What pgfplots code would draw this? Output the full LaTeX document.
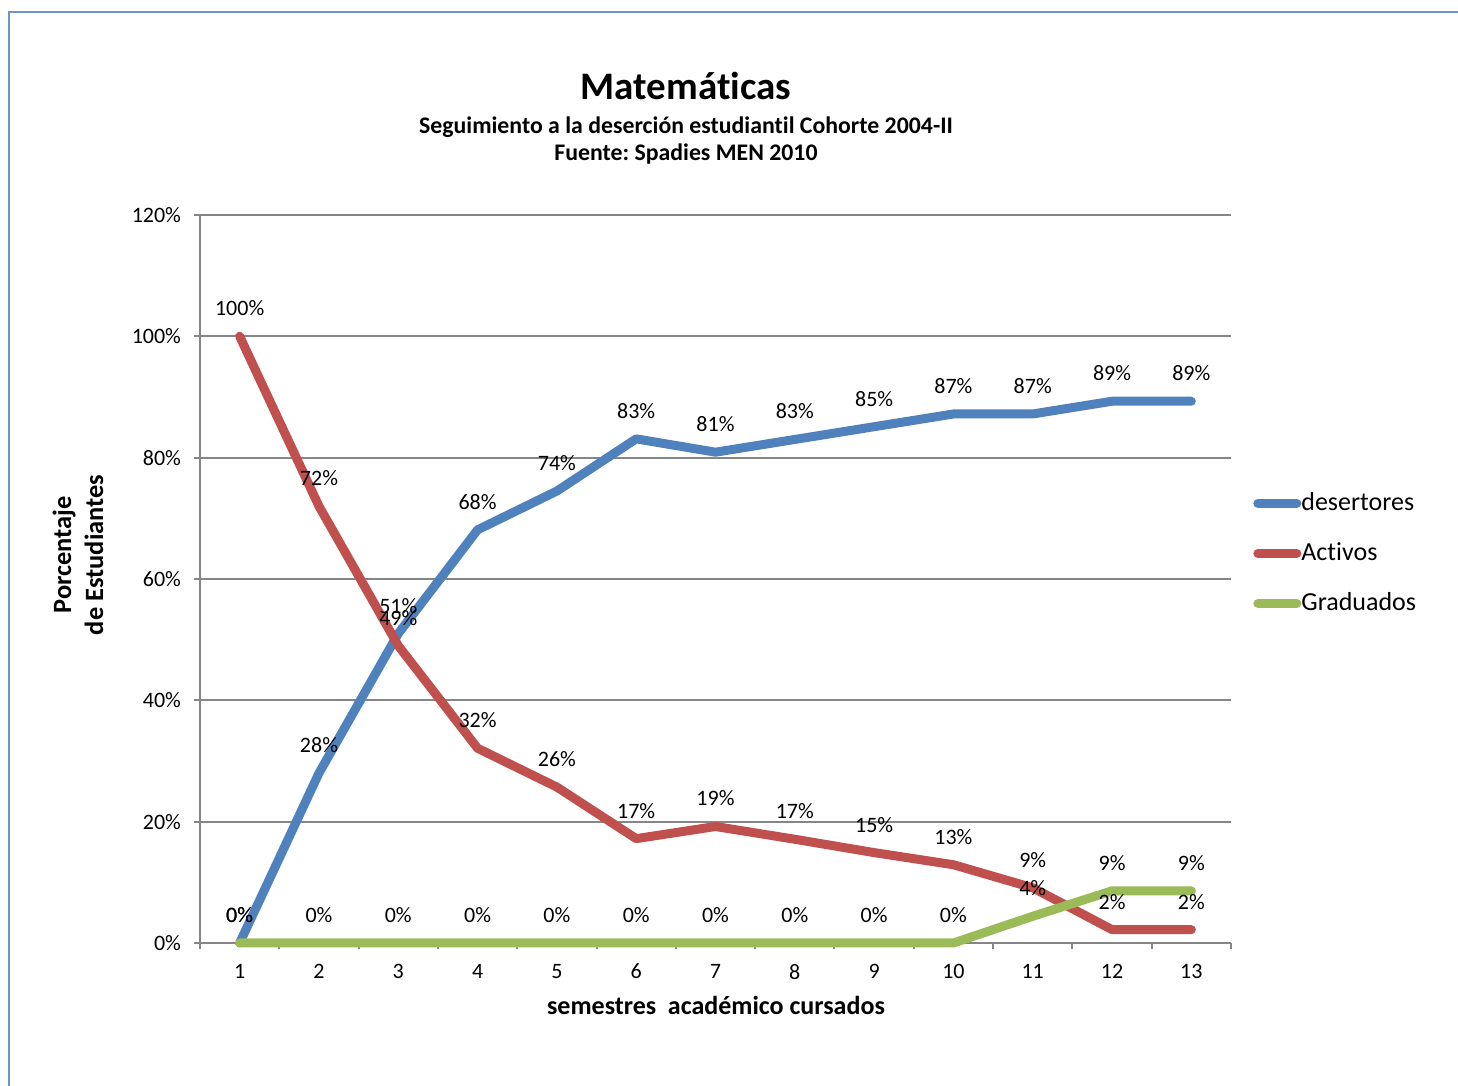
\documentclass[border=0pt]{standalone}
\usepackage{fontspec}
\setmainfont{Carlito}[Ligatures={NoCommon,NoContextual}, RawFeature={-liga;-clig;-calt;-dlig}]
\usepackage{pgfplots}
\usepackage{pgfplotstable}
\pgfplotsset{compat=1.18}
\frenchspacing
\definecolor{cblue}{RGB}{79,129,189}
\definecolor{cred}{RGB}{192,80,77}
\definecolor{cgreen}{RGB}{155,187,89}
\definecolor{cgrid}{RGB}{134,134,134}
\definecolor{cframe}{RGB}{110,147,201}

\pgfplotstableread{
x y lab
1 0 0
2 28 28
3 51 51
4 68.1 68
5 74.5 74
6 83.1 83
7 80.9 81
8 83.0 83
9 85.1 85
10 87.2 87
11 87.2 87
12 89.3 89
13 89.3 89
}\desert
\pgfplotstableread{
x y lab
1 100 100
2 72 72
3 49 49
4 32.1 32
5 25.7 26
6 17.2 17
7 19.2 19
8 17.1 17
9 14.9 15
10 12.9 13
11 9.1 9
12 2.2 2
13 2.2 2
}\activos
\pgfplotstableread{
x y lab
1 0 0
2 0 0
3 0 0
4 0 0
5 0 0
6 0 0
7 0 0
8 0 0
9 0 0
10 0 0
11 4.4 4
12 8.6 9
13 8.6 9
}\grad

\begin{document}
\begin{tikzpicture}
\useasboundingbox (0,0) rectangle (729pt,543pt);
\draw[cframe, line width=1pt] (4.5pt,0) -- (4.5pt,537pt) -- (729pt,537pt);
\node[anchor=base, font=\fontsize{19.5}{22}\selectfont\bfseries] at (343pt,493pt) {Matemáticas};
\node[anchor=base, font=\fontsize{11.9}{13}\selectfont\bfseries] at (343pt,476pt) {Seguimiento a la deserción estudiantil Cohorte 2004-II};
\node[anchor=base, font=\fontsize{11.9}{13}\selectfont\bfseries] at (343pt,462.5pt) {Fuente: Spadies MEN 2010};
\node[anchor=base, font=\fontsize{13}{15}\selectfont\bfseries] at (358pt,35.5pt) {semestres\ \ académico cursados};
\node[rotate=90, align=center, font=\fontsize{13.2}{16}\selectfont\bfseries] at (39pt,265.5pt) {Porcentaje\\de Estudiantes};
\begin{axis}[
  at={(100pt,71.5pt)}, anchor=south west,
  scale only axis, width=515.5pt, height=364pt,
  xmin=0.5, xmax=13.5, ymin=0, ymax=120,
  clip=false,
  axis lines=left, axis line style={-, cgrid, line width=1pt},
  xtick={1,...,13}, major x tick style={draw=none},
  minor xtick={0.5,1.5,...,13.5},
  minor x tick style={cgrid, line width=1pt},
  minor tick length=3pt,
  ytick={0,20,...,120},
  yticklabels={0\%,20\%,40\%,60\%,80\%,100\%,120\%},
  major y tick style={cgrid, line width=1pt},
  major tick length=3pt,
  tick align=outside,
  ymajorgrids, grid style={cgrid, line width=0.9pt},
  /pgf/number format/assume math mode=true,
  tick label style={font=\fontsize{11}{13}\selectfont},
  yticklabel style={xshift=-3pt},
  xticklabel style={yshift=-4pt},
  legend style={draw=none, at={(1.0213,0.535)}, anchor=west,
    font=\fontsize{13}{15}\selectfont, inner sep=0pt,
    row sep=12.5pt,
    nodes={inner sep=0pt, text height=9.5pt, text depth=3pt}},
  legend cell align=left,
  legend image code/.code={\draw[#1, line width=4.5pt, line cap=round] (2.25pt,0pt) -- (21.75pt,0pt);},
  nodes near coords={\pgfplotspointmeta\%},
  point meta=explicit symbolic,
  every node near coord/.style={anchor=center, yshift=14pt, text=black, font=\fontsize{11}{13}\selectfont},
]
\addplot[cblue, line width=4.5pt, line join=round, line cap=round] table[x=x, y=y, meta=lab] {\desert};
\addlegendentry{desertores}
\addplot[cred, line width=4.5pt, line join=round, line cap=round] table[x=x, y=y, meta=lab] {\activos};
\addlegendentry{Activos}
\addplot[cgreen, line width=4.5pt, line join=round, line cap=round] table[x=x, y=y, meta=lab] {\grad};
\addlegendentry{Graduados}
\end{axis}
\end{tikzpicture}
\end{document}
